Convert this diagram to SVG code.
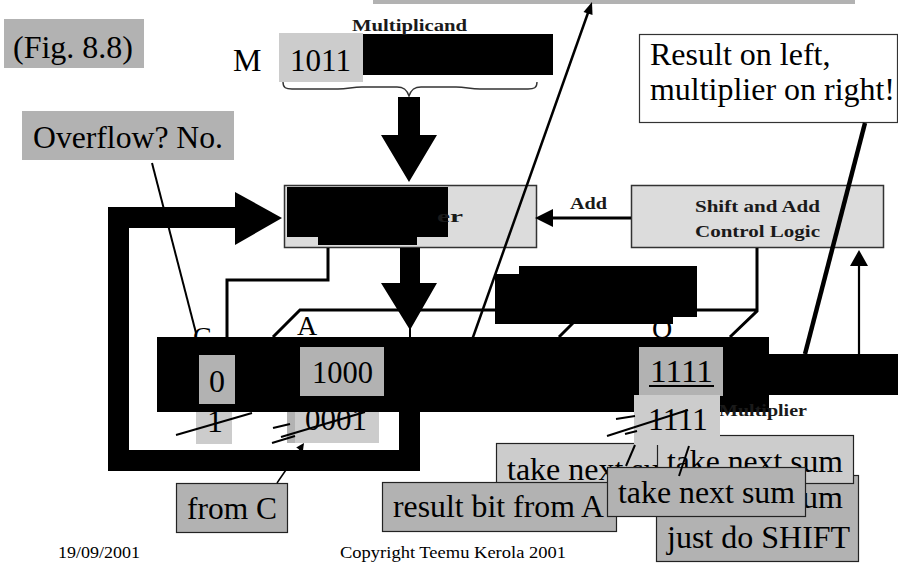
<svg xmlns="http://www.w3.org/2000/svg" width="898" height="563" viewBox="0 0 898 563">
<style>
.t{font-family:"Liberation Serif","Times New Roman",serif;font-size:32px;fill:#000}
.m{font-family:"Liberation Serif","Times New Roman",serif;font-size:28px;fill:#000}
.b{font-family:"Liberation Serif","Times New Roman",serif;font-weight:bold;font-size:17px;fill:#1a1a1a}
.s{font-family:"Liberation Serif","Times New Roman",serif;font-size:17px;fill:#000}
.dg{fill:#b2b2b2}
.lg{fill:#cccccc}
.bx{stroke:#222;stroke-width:1.2}
.pnl{fill:#dcdcdc;stroke:#333;stroke-width:1.5}
.ln{stroke:#000;fill:none;stroke-width:3}
.thin{stroke:#000;fill:none;stroke-width:2}
.blk{fill:#000}
</style>
<rect x="373" y="0" width="482" height="4" class="dg"/>
<g id="fig"><rect x="4" y="19" width="140" height="49" class="dg"/><text class="t" x="13" y="58" textLength="120" lengthAdjust="spacingAndGlyphs">(Fig. 8.8)</text></g>
<g id="overflow"><rect x="22" y="111" width="212" height="49" class="dg"/><text class="t" x="33" y="148" textLength="190" lengthAdjust="spacingAndGlyphs">Overflow? No.</text></g>
<g id="multiplicand">
<text class="t" x="233" y="71">M</text>
<rect x="279" y="33" width="84" height="49" class="lg"/>
<text class="t" x="290" y="71" textLength="61" lengthAdjust="spacingAndGlyphs">1011</text>
<rect x="363" y="34" width="190" height="41" class="blk"/>
<text class="b" x="352" y="31" textLength="115" lengthAdjust="spacingAndGlyphs">Multiplicand</text>
<path d="M283,82 C283,88 286,89 292,89 L338,89 C348,89 352,87 362,87 L397,87 C404,87 407,90 409,96 C411,90 414,87 421,87 L456,87 C466,87 470,89 480,89 L528,89 C534,89 537,88 537,82" fill="none" stroke="#333" stroke-width="1.4"/>
<polygon points="398,97 420,97 420,135 437,135 409,182 381,135 398,135" class="blk"/>
</g>
<g id="note"><rect x="639.5" y="34.5" width="258" height="88" fill="#fff" stroke="#333" stroke-width="1.2"/>
<text class="t" x="650" y="65">Result on left,</text>
<text class="t" x="650" y="100" textLength="245" lengthAdjust="spacingAndGlyphs">multiplier on right!</text></g>
<g id="adder"><rect x="284.5" y="185.5" width="252" height="62" class="pnl"/>
<rect x="287" y="187" width="161" height="50" class="blk"/><rect x="318" y="236" width="99" height="9" class="blk"/>
<text class="b" x="437" y="222" textLength="26" lengthAdjust="spacingAndGlyphs">er</text></g>
<g id="control"><rect x="631.5" y="185.5" width="252" height="62" class="pnl"/>
<text class="b" x="695" y="212" font-size="18" textLength="125" lengthAdjust="spacingAndGlyphs">Shift and Add</text>
<text class="b" x="695" y="237" font-size="18" textLength="125" lengthAdjust="spacingAndGlyphs">Control Logic</text></g>
<g id="connectors">
<line x1="631" y1="218" x2="552" y2="218" class="ln" stroke-width="2.5"/>
<polygon points="535,218 553,209 553,227" class="blk"/>
<text class="b" x="570" y="209" font-size="18" textLength="37" lengthAdjust="spacingAndGlyphs">Add</text>
<path d="M409.5,412 V460.5 H118.5 V217.5 H237" fill="none" stroke="#000" stroke-width="21"/>
<polygon points="235,192 282,218 235,245" class="blk"/>
<path d="M328,248 V280 H227 V337" class="ln"/>
<path d="M273,337 L300,310 L757,310 M757,248 V311 L730,337 M559,337 L586,310" class="ln"/>
</g>
<g id="labels">
<text class="m" x="193" y="346" font-size="30">C</text>
<text class="m" x="297" y="335">A</text>
<text class="m" x="652" y="338">Q</text>
</g>
<polygon id="blob" points="519,266 697,266 697,317 673,317 673,324 495,324 495,274 519,274" class="blk"/>
<g id="register">
<rect x="157" y="337" width="612" height="75" class="blk"/>
<rect x="768" y="354" width="130" height="41" class="blk"/>
<rect x="199" y="355" width="36" height="49" class="dg"/><text class="t" x="209" y="392" font-size="30">0</text>
<rect x="300" y="347" width="84" height="49" class="dg"/><text class="t" x="312" y="383" textLength="61" lengthAdjust="spacingAndGlyphs">1000</text>
<rect x="639" y="347" width="84" height="49" class="dg"/><text class="t" x="650" y="382" textLength="63" lengthAdjust="spacingAndGlyphs">1111</text>
<line x1="649" y1="386" x2="714" y2="386" stroke="#000" stroke-width="2"/>
</g>
<polygon points="400,248 420,248 420,283 437,283 410,330 381,283 400,283" class="blk"/>
<line x1="410" y1="328" x2="410" y2="337" class="thin"/>
<g id="oldvals">
<rect x="196" y="412" width="36" height="32" class="lg"/><text class="t" x="207" y="432" font-size="30">1</text>
<rect x="287" y="412" width="9" height="31" class="dg"/><rect x="295" y="412" width="84" height="31" class="lg"/>
<text class="t" x="305" y="430" font-size="30" textLength="62" lengthAdjust="spacingAndGlyphs">0001</text>
<text class="b" x="719" y="416" textLength="88" lengthAdjust="spacingAndGlyphs">Multiplier</text>
</g>
<g id="boxA"><rect x="496.5" y="443.5" width="197" height="48" class="lg bx"/><text class="t" x="507" y="480">take next sum</text></g>
<g id="fromC"><rect x="176.5" y="483.5" width="111" height="49" class="dg bx"/><text class="t" x="187" y="519" textLength="90" lengthAdjust="spacingAndGlyphs">from C</text></g>
<g id="resultbit"><rect x="382.5" y="482.5" width="234" height="49" class="dg bx"/><text class="t" x="393" y="517" textLength="211" lengthAdjust="spacingAndGlyphs">result bit from A</text></g>
<g id="boxC"><rect x="656.5" y="475.5" width="202" height="86" class="dg bx"/><text class="t" x="843" y="508" text-anchor="end">um</text><text class="t" x="667" y="548">just do SHIFT</text></g>
<g id="boxB"><rect x="657.5" y="435.5" width="196" height="48" class="lg bx"/><text class="t" x="667" y="472" textLength="176" lengthAdjust="spacingAndGlyphs">take next sum</text></g>
<g id="q1111"><rect x="634" y="395" width="86" height="50" class="lg"/><text class="t" x="648" y="430" font-size="30" textLength="60" lengthAdjust="spacingAndGlyphs">1111</text></g>
<g id="boxD"><rect x="607.5" y="467.5" width="198" height="49" class="dg bx"/><text class="t" x="618" y="503" textLength="177" lengthAdjust="spacingAndGlyphs">take next sum</text></g>
<g id="marks">
<line x1="176" y1="435" x2="252" y2="413" class="thin"/>
<line x1="273" y1="428" x2="290" y2="424" class="thin"/>
<line x1="281" y1="437" x2="365" y2="412" class="thin"/>
<line x1="272" y1="443" x2="295" y2="436" class="thin"/>
<line x1="616" y1="419" x2="635" y2="416" class="thin"/>
<line x1="607" y1="436" x2="688" y2="410" class="thin"/>
<line x1="625" y1="434" x2="637" y2="431" class="thin"/>
<line x1="626" y1="466" x2="635" y2="445" class="thin"/>
<line x1="679" y1="476" x2="689" y2="446" class="thin"/>
<line x1="152" y1="163" x2="196" y2="333" class="thin"/>
<line x1="472" y1="340" x2="589" y2="10" stroke="#000" stroke-width="2.5"/>
<polygon points="592,2 592.5,15 583.5,12" class="blk"/>
<line x1="865" y1="123" x2="805" y2="354" stroke="#000" stroke-width="4.5"/>
<line x1="859" y1="354" x2="859" y2="262" stroke="#000" stroke-width="2.2"/>
<polygon points="859,250 850,266 868,266" class="blk"/>
<line x1="277" y1="483" x2="301" y2="448" stroke="#000" stroke-width="1.5"/>
<polygon points="304,443 302.8,451.8 296.2,447.4" class="blk"/>
</g>
<text class="s" x="58" y="558" textLength="82" lengthAdjust="spacingAndGlyphs">19/09/2001</text>
<text class="s" x="340" y="558" textLength="226" lengthAdjust="spacingAndGlyphs">Copyright Teemu Kerola 2001</text>
</svg>
